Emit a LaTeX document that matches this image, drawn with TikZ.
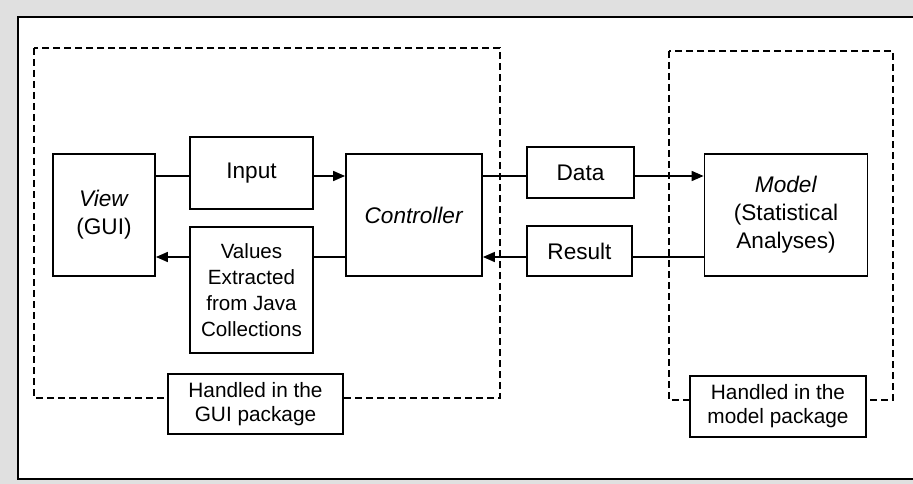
\documentclass[tikz,border=0pt]{standalone}
\usepackage{fontspec}
\setmainfont{Liberation Sans}
\usetikzlibrary{arrows.meta}
\definecolor{bggray}{RGB}{224,224,224}

\tikzset{
  block/.style={draw=black, line width=1.8pt, fill=white, inner sep=0pt,
    align=center, font=\fontsize{22.6}{28}\selectfont},
  smallblock/.style={block, font=\fontsize{20.6}{26}\selectfont},
  labelblock/.style={block, font=\fontsize{20.8}{24}\selectfont},
  wire/.style={line width=1.6pt},
  arrowwire/.style={wire, -{Triangle[length=12pt,width=10pt]}},
  pkgframe/.style={dash pattern=on 7pt off 4pt, line width=1.9pt},
}

\begin{document}
\begin{tikzpicture}[x=1pt, y=-1pt]
  \useasboundingbox (0,0) rectangle (913,484);
  % canvas and outer frame (right side runs off the page)
  \fill[bggray] (0,0) rectangle (913,484);
  \fill[white] (18,17) rectangle (913,479);
  \draw[line width=2pt] (915,17) -- (18,17) -- (18,479) -- (915,479);

  % package frames
  \draw[pkgframe] (34,48) rectangle (500,398);
  \draw[pkgframe] (669,51) rectangle (893,400);

  % rows used by the connectors
  \coordinate (rowtop) at (0,176);
  \coordinate (rowbot) at (0,257);

  % blocks
  \node[block, minimum width=102pt, minimum height=122pt] (view) at (104,215)
    {\textit{View}\\(GUI)};
  \node[block, minimum width=123pt, minimum height=72pt] (input) at (251.5,173)
    {Input};
  \node[smallblock, minimum width=123pt, minimum height=126pt] (values) at (251.5,290)
    {Values\\Extracted\\from Java\\Collections};
  \node[block, minimum width=136pt, minimum height=122pt] (ctrl) at (414,215)
    {\textit{Controller}};
  \node[block, minimum width=107pt, minimum height=51pt] (data) at (580.5,172.5)
    {Data};
  \node[block, minimum width=105pt, minimum height=50pt] (result) at (579.5,251)
    {Result};
  \node[block, minimum width=163pt, minimum height=122pt] (model) at (786,215)
    {\textit{Model}\\(Statistical\\Analyses)};

  % package labels sitting on the frames
  \node[labelblock, minimum width=175pt, minimum height=60pt] (guipkg) at (255.5,404)
    {Handled in the\\GUI package};
  \node[labelblock, minimum width=176pt, minimum height=61pt] (modelpkg) at (778,406.5)
    {Handled in the\\model package};

  % connectors
  \draw[wire] (view.east |- rowtop) -- (input.west |- rowtop);
  \draw[arrowwire] (input.east |- rowtop) -- (ctrl.west |- rowtop);
  \draw[wire] (ctrl.east |- rowtop) -- (data.west |- rowtop);
  \draw[arrowwire] (data.east |- rowtop) -- (model.west |- rowtop);
  \draw[wire] (model.west |- rowbot) -- (result.east |- rowbot);
  \draw[arrowwire] (result.west |- rowbot) -- (ctrl.east |- rowbot);
  \draw[wire] (ctrl.west |- rowbot) -- (values.east |- rowbot);
  \draw[arrowwire] (values.west |- rowbot) -- (view.east |- rowbot);
\end{tikzpicture}
\end{document}
